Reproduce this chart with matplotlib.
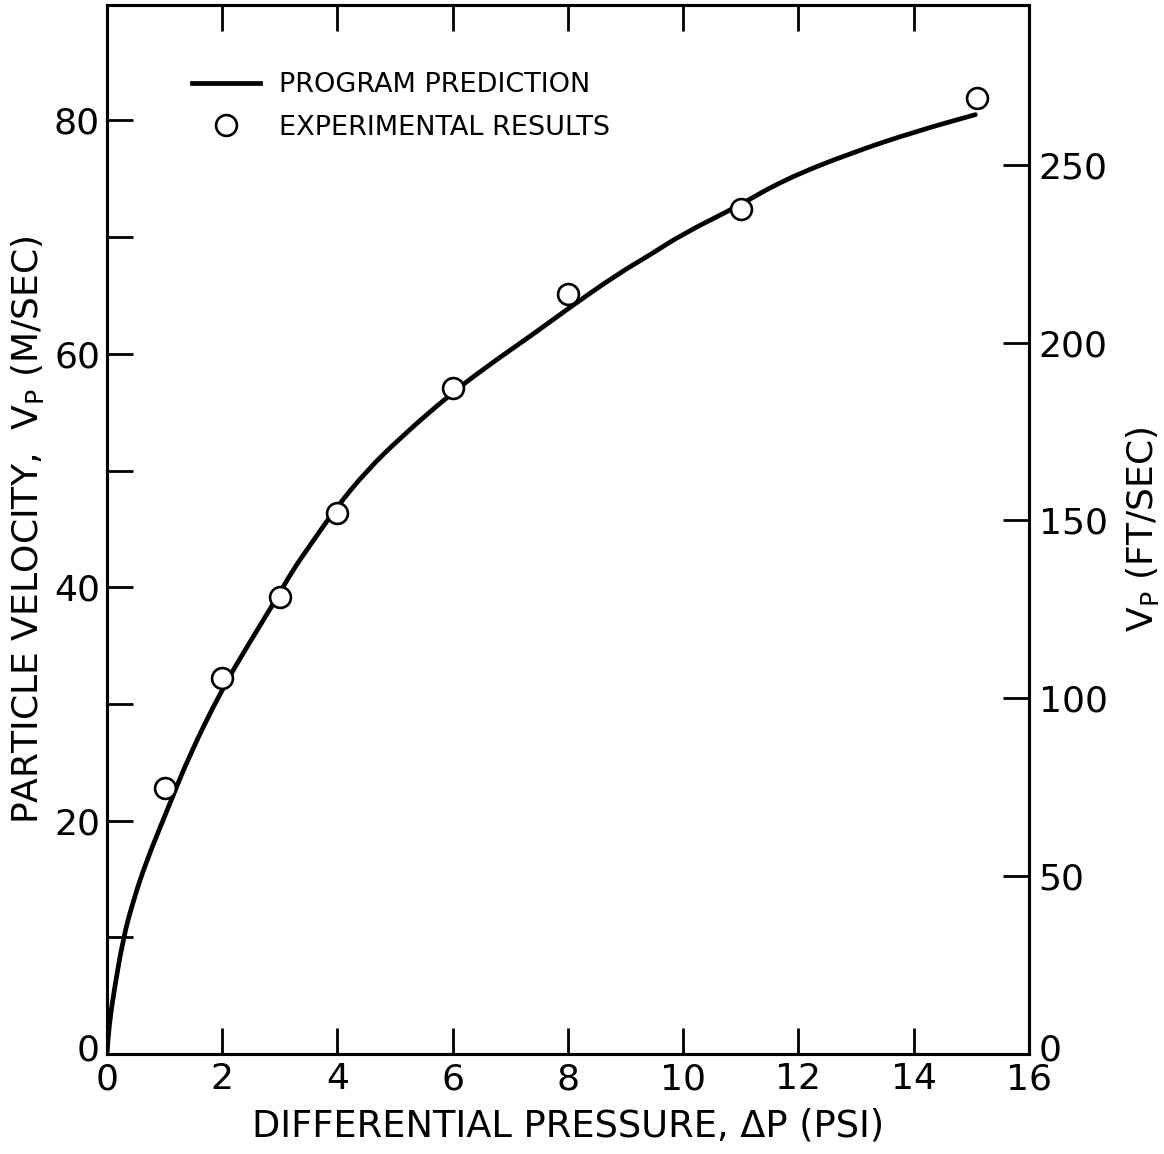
import matplotlib.pyplot as plt
import matplotlib.transforms as mtransforms
from matplotlib.path import Path
from matplotlib.patches import PathPatch
from matplotlib.lines import Line2D
import numpy as np

# Program prediction curve
curve_dp = [0, 0.02, 0.06, 0.11, 0.28, 0.46, 0.69, 1.07, 1.44, 1.99, 2.43, 2.89, 3.23, 3.47,
            3.99, 4.51, 5.09, 5.90, 6.53, 7.40, 7.98, 8.85, 9.43, 10.0, 10.93, 11.74,
            12.90, 14.06, 15.07]
curve_vp = [0, 1.5, 3.2, 5.0, 9.9, 13.2, 16.6, 21.2, 25.7, 31.2, 34.9, 38.6, 41.5, 43.2,
            46.9, 50.0, 52.8, 56.3, 58.7, 61.7, 63.8, 66.8, 68.5, 70.3, 72.6, 74.9,
            77.2, 79.1, 80.5]

# Experimental results
exp_dp = [1, 2, 3, 4, 6, 8, 11, 15.1]
exp_vp = [22.8, 32.2, 39.2, 46.4, 57.1, 65.1, 72.4, 81.9]

x_ticks = [0, 2, 4, 6, 8, 10, 12, 14, 16]
y_ticks = [0, 10, 20, 30, 40, 50, 60, 70, 80]
ft_ticks = [0, 50, 100, 150, 200, 250]
M_TO_FT = 3.28084


def smooth_path(xs, ys):
    # quadratic bezier through the midpoints, read points used as control points
    pts = np.column_stack([xs, ys])
    verts = [pts[0]]
    codes = [Path.MOVETO]
    for i in range(1, len(pts) - 1):
        verts += [pts[i], (pts[i] + pts[i + 1]) / 2]
        codes += [Path.CURVE3, Path.CURVE3]
    verts.append(pts[-1])
    codes.append(Path.LINETO)
    return Path(verts, codes)


fig = plt.figure(figsize=(11.64, 11.54), dpi=100)
ax = fig.add_axes([0.0919, 0.0867, 0.7921, 0.909])

ax.add_patch(PathPatch(smooth_path(curve_dp, curve_vp), fill=False, edgecolor='black',
                       linewidth=3.4, capstyle='round', joinstyle='round'))
ax.plot(exp_dp, exp_vp, linestyle='none', marker='o', markersize=15,
        markerfacecolor='white', markeredgecolor='black', markeredgewidth=1.9, zorder=3)

ax.set_xlim(0, 16)
ax.set_ylim(0, 89.9)

for side in ax.spines.values():
    side.set_linewidth(2.2)

ax.set_xticks(x_ticks)
ax.set_xticklabels([str(t) for t in x_ticks])
ax.set_yticks(y_ticks)
ax.set_yticklabels([str(t) if t % 20 == 0 else '' for t in y_ticks])
ax.tick_params(axis='both', direction='in', length=19, width=2.0, labelsize=26,
               top=True, right=False)
ax.tick_params(axis='x', pad=6)
ax.tick_params(axis='y', pad=5)
# no tick marks at the ends of the x axis, nor at y=0
for t in [ax.xaxis.get_major_ticks()[0], ax.xaxis.get_major_ticks()[-1]]:
    t.tick1line.set_visible(False)
    t.tick2line.set_visible(False)
ax.yaxis.get_major_ticks()[0].tick1line.set_visible(False)

ax.set_xlabel('DIFFERENTIAL PRESSURE, ΔP (PSI)', fontsize=26.5, labelpad=8)
ax.set_ylabel(r'PARTICLE VELOCITY,  V$_\mathregular{P}$ (M/SEC)', fontsize=26, labelpad=6)

ax2 = ax.twinx()
ax2.set_ylim(0, 89.9 * M_TO_FT)
ax2.set_yticks(ft_ticks)
ax2.set_yticklabels([str(t) for t in ft_ticks])
ax2.tick_params(axis='y', direction='in', length=19, width=2.0, labelsize=26, pad=7)
ax2.yaxis.get_major_ticks()[0].tick2line.set_visible(False)
for side in ax2.spines.values():
    side.set_linewidth(2.2)
ax2.set_ylabel(r'V$_\mathregular{P}$ (FT/SEC)', fontsize=26, labelpad=12)

# lift the two "0" labels at the bottom a little, as in the original
lift = mtransforms.ScaledTranslation(0, 5 / 72, fig.dpi_scale_trans)
for lbl in [ax.get_yticklabels()[0], ax2.get_yticklabels()[0]]:
    lbl.set_transform(lbl.get_transform() + lift)

handles = [Line2D([], [], color='black', linewidth=3.4),
           Line2D([], [], linestyle='none', marker='o', markersize=15,
                  markerfacecolor='white', markeredgecolor='black', markeredgewidth=1.9)]
ax.legend(handles, ['PROGRAM PREDICTION', 'EXPERIMENTAL RESULTS'],
          loc='upper left', bbox_to_anchor=(0.066, 0.959), frameon=False,
          fontsize=19.5, handlelength=2.5, handletextpad=0.7, labelspacing=0.6)

fig.savefig('out.png', dpi=100)
